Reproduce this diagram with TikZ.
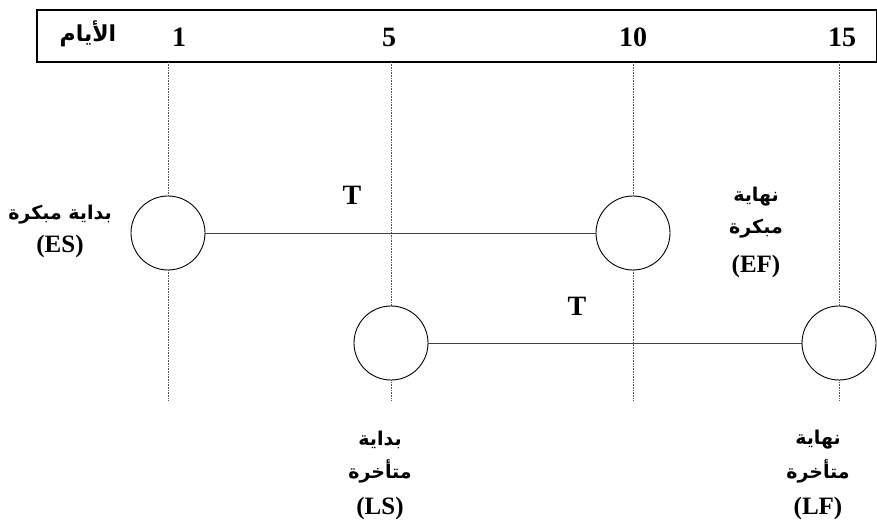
\documentclass[tikz,border=0pt]{standalone}
\usepackage{fontspec}
\setmainfont{Liberation Serif}
\newfontfamily\arabicfont[Script=Arabic,UprightFont={DejaVu Sans Bold}]{DejaVu Sans}
\TeXXeTstate=1
\begin{document}
\begin{tikzpicture}[x=1pt,y=-1pt,
  event/.style={circle,draw=black,fill=white,line width=0.9pt,minimum size=74pt,inner sep=0pt},
  guide/.style={densely dotted,gray!70!black,line width=0.6pt},
  link/.style={line width=0.8pt,black!75},
  num/.style={font=\fontsize{28}{30}\selectfont\bfseries},
  lbl/.style={align=center,font=\fontsize{25}{30}\selectfont\bfseries},
  ar/.style={font=\arabicfont\fontsize{19}{22}\selectfont}]
\useasboundingbox (0,0) rectangle (877,526);
\fill[white] (0,0) rectangle (877,526);

% time scale header
\draw[line width=1.3pt] (37,10) rectangle (877,62);
\node[ar,font=\arabicfont\fontsize{22}{24}\selectfont] (days) at (88,34) {\beginR الأيام\endR};
\node[num] (d1) at (179,37) {1};
\node[num] (d5) at (389,37) {5};
\node[num] (d10) at (633,37) {10};
\node[num] (d15) at (842,37) {15};

% reference lines under each day
\coordinate (t1) at (168,62);  \coordinate (b1) at (168,400);
\coordinate (t5) at (391,62);  \coordinate (b5) at (391,400);
\coordinate (t10) at (633,62); \coordinate (b10) at (633,400);
\coordinate (t15) at (839,62); \coordinate (b15) at (839,400);
\draw[guide] (t1) -- (b1);
\draw[guide] (t5) -- (b5);
\draw[guide] (t10) -- (b10);
\draw[guide] (t15) -- (b15);

% events
\node[event] (ES) at (168,233) {};
\node[event] (EF) at (633,233) {};
\node[event] (LS) at (391,343) {};
\node[event] (LF) at (839,343) {};

\draw[link] (ES) -- (EF);
\draw[link] (LS) -- (LF);
\node[num] (T1) at (352,195) {T};
\node[num] (T2) at (577,306) {T};

% labels
\node[ar] (esA) at (60,215) {\beginR بداية مبكرة\endR};
\node[lbl] (esB) at (60,246) {(ES)};

\node[ar] (efA) at (756,197) {\beginR نهاية\endR};
\node[ar] (efB) at (756,229) {\beginR مبكرة\endR};
\node[lbl] (efC) at (756,266) {(EF)};

\node[ar] (lsA) at (380,440) {\beginR بداية\endR};
\node[ar] (lsB) at (380,471) {\beginR متأخرة\endR};
\node[lbl] (lsC) at (380,508) {(LS)};

\node[ar] (lfA) at (818,440) {\beginR نهاية\endR};
\node[ar] (lfB) at (818,471) {\beginR متأخرة\endR};
\node[lbl] (lfC) at (818,508) {(LF)};
\end{tikzpicture}
\end{document}
